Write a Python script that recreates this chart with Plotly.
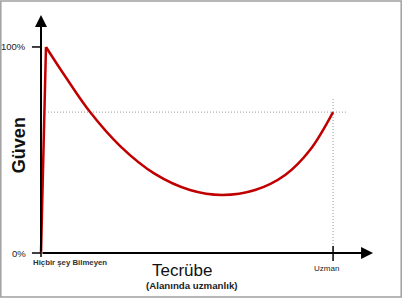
import plotly.graph_objects as go

# Data (experience 0-100, confidence 0-100%)
rise_x = [0, 1.7]
rise_y = [0, 100]
experience = [1.7, 8.2, 16.8, 27.1, 39.0, 51.0, 62.0, 73.3, 83.6, 92.1, 100]
confidence = [100, 85.9, 68.4, 51.9, 38.4, 30.6, 28.2, 30.6, 37.9, 50.0, 68.4]
expert_level = 68.4
y_tick_vals = [0, 100]
y_tick_text = ["0%", "100%"]
x_labels = ["Hiçbir şey Bilmeyen", "Uzman"]

RED = "#c00000"
TXT = "#222222"
FONT = "Liberation Sans, Arial, sans-serif"

fig = go.Figure()
fig.add_trace(go.Scatter(x=rise_x, y=rise_y, mode="lines",
                         line=dict(color=RED, width=2.5), hoverinfo="skip"))
fig.add_trace(go.Scatter(x=experience, y=confidence, mode="lines",
                         line=dict(color=RED, width=2.5, shape="spline", smoothing=1.0),
                         hoverinfo="skip"))

shapes = []
# dotted guides
shapes.append(dict(type="line", x0=2.4, x1=104.8, y0=expert_level, y1=expert_level,
                   line=dict(color="#999999", width=1, dash="1px,2px"), layer="below"))
shapes.append(dict(type="line", x0=100, x1=100, y0=0, y1=75.2,
                   line=dict(color="#999999", width=1, dash="1px,2px"), layer="below"))
# y ticks
for v in y_tick_vals:
    shapes.append(dict(type="line", x0=-3.1, x1=0, y0=v, y1=v,
                       line=dict(color="black", width=1.5)))
# x ticks
shapes.append(dict(type="line", x0=100, x1=100, y0=3.4, y1=-3.9,
                   line=dict(color="black", width=1.5)))
shapes.append(dict(type="line", x0=0, x1=0, y0=0, y1=-2.0,
                   line=dict(color="black", width=1.5)))
# frame
shapes.append(dict(type="rect", xref="paper", yref="paper",
                   x0=0.002, x1=0.998, y0=0.003, y1=0.997,
                   line=dict(color="#a0a0a0", width=1.5)))

annotations = []
# axes arrows
annotations.append(dict(x=0, y=115.5, ax=0, ay=0, xref="x", yref="y", axref="x", ayref="y",
                        text="", showarrow=True, arrowhead=2, arrowsize=1.2,
                        arrowwidth=2, arrowcolor="black", standoff=0))
annotations.append(dict(x=113.7, y=0, ax=0, ay=0, xref="x", yref="y", axref="x", ayref="y",
                        text="", showarrow=True, arrowhead=2, arrowsize=1.2,
                        arrowwidth=2, arrowcolor="black", standoff=0))
# y tick labels
for v, t in zip(y_tick_vals, y_tick_text):
    annotations.append(dict(x=-4.3, y=v, xref="x", yref="y", text=t, showarrow=False,
                            xanchor="right", yanchor="middle",
                            font=dict(family=FONT, size=9.5, color=TXT)))
# x labels
annotations.append(dict(x=-3.3, y=-4.6, xref="x", yref="y", text="<b>" + x_labels[0] + "</b>",
                        showarrow=False, xanchor="left", yanchor="middle",
                        font=dict(family=FONT, size=7.8, color="#333333")))
annotations.append(dict(x=97.9, y=-7.5, xref="x", yref="y", text=x_labels[1],
                        showarrow=False, xanchor="center", yanchor="middle",
                        font=dict(family=FONT, size=8, color=TXT)))
# axis titles
annotations.append(dict(x=-7.5, y=52.4, xref="x", yref="y", text="<b>Güven</b>", textangle=-90,
                        showarrow=False, xanchor="center", yanchor="middle",
                        font=dict(family=FONT, size=18, color="#111111")))
annotations.append(dict(x=48.3, y=-8.7, xref="x", yref="y", text="Tecrübe",
                        showarrow=False, xanchor="center", yanchor="middle",
                        font=dict(family=FONT, size=17, color="#111111")))
annotations.append(dict(x=51.7, y=-16.0, xref="x", yref="y", text="<b>(Alanında uzmanlık)</b>",
                        showarrow=False, xanchor="center", yanchor="middle",
                        font=dict(family=FONT, size=9.7, color=TXT)))

fig.update_layout(
    width=402, height=298, margin=dict(l=0, r=0, t=0, b=0),
    paper_bgcolor="white", plot_bgcolor="white", showlegend=False,
    xaxis=dict(range=[-14.04, 123.6], visible=False, fixedrange=True),
    yaxis=dict(range=[-21.84, 122.8], visible=False, fixedrange=True),
    shapes=shapes, annotations=annotations,
)
fig.write_html("out.html", config={"displayModeBar": False})
